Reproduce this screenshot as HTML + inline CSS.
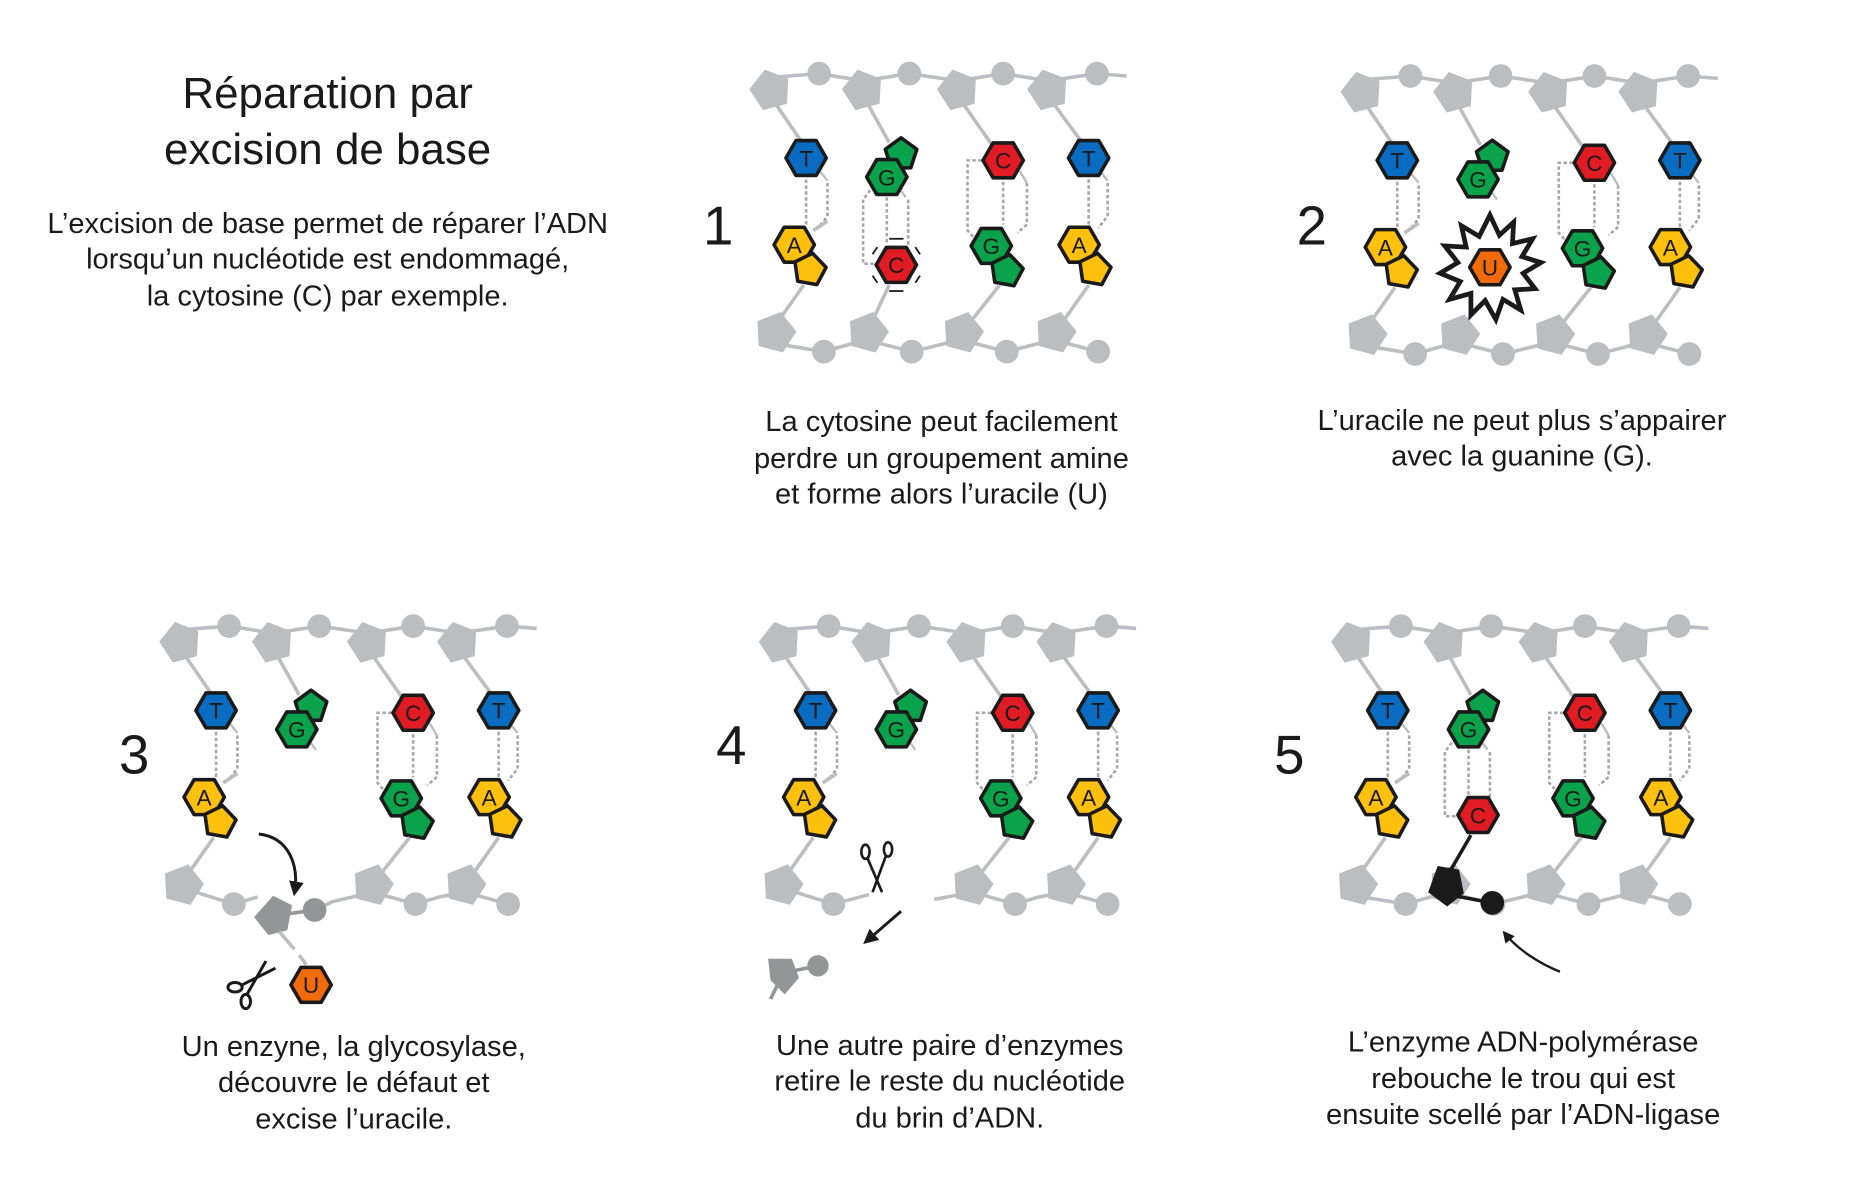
<!DOCTYPE html>
<html><head><meta charset="utf-8"><style>
html,body{margin:0;padding:0;background:#fff}
svg{display:block}
text{font-family:"Liberation Sans",sans-serif;fill:#1a1a1a}
</style></head><body>
<svg width="1852" height="1188" viewBox="0 0 1560 1000" preserveAspectRatio="none" xmlns="http://www.w3.org/2000/svg">
<defs>
<polygon id="hx" points="17,0 8.5,14.7 -8.5,14.7 -17,0 -8.5,-14.7 8.5,-14.7" stroke="#1a1a1a" stroke-width="3" stroke-linejoin="round"/>
<polygon id="pt" points="0,-14 13.3,-4.3 8.2,11.3 -8.2,11.3 -13.3,-4.3" stroke="#1a1a1a" stroke-width="3" stroke-linejoin="round"/>
<polygon id="bp" points="0,-18 17,-5.5 10.5,14.5 -10.5,14.5 -17,-5.5" fill="#bcbdc0"/>
<g id="top">
<polyline points="2,12 53,8 90,14 129,8 170,14 208,8 246,14 287,8 312,10" fill="none" stroke="#bcbdc0" stroke-width="3"/>
<use href="#bp" transform="translate(12,22) rotate(-15)"/><use href="#bp" transform="translate(90,22) rotate(-15)"/><use href="#bp" transform="translate(170,22) rotate(-15)"/><use href="#bp" transform="translate(246,22) rotate(-15)"/>
<circle cx="53" cy="8" r="10" fill="#bcbdc0"/><circle cx="129" cy="8" r="10" fill="#bcbdc0"/><circle cx="208" cy="8" r="10" fill="#bcbdc0"/><circle cx="287" cy="8" r="10" fill="#bcbdc0"/>
<g stroke="#bcbdc0" stroke-width="3"><line x1="14" y1="30" x2="40" y2="68"/><line x1="92" y1="30" x2="112" y2="66"/><line x1="172" y1="30" x2="200" y2="70"/><line x1="248" y1="30" x2="276" y2="68"/></g>
<g fill="none" stroke="#bcbdc0" stroke-width="2"><path d="M52,88 L60,98"/><path d="M288,88 L296,98"/><path d="M120,104 L126,112"/><path d="M222,90 L228,100"/></g>
</g>
<g id="topbases">
<use href="#hx" transform="translate(42,79)" fill="#0a6cc0"/><text x="42" y="86" font-size="19" text-anchor="middle">T</text>
<use href="#pt" transform="translate(122,76)" fill="#0aa24a"/><use href="#hx" transform="translate(110,95)" fill="#0aa24a"/><text x="110" y="102" font-size="19" text-anchor="middle">G</text>
<use href="#hx" transform="translate(208,81)" fill="#e01b23"/><text x="208" y="88" font-size="19" text-anchor="middle">C</text>
<use href="#hx" transform="translate(280,79)" fill="#0a6cc0"/><text x="280" y="86" font-size="19" text-anchor="middle">T</text>
</g>
<g id="dotsTA" fill="none" stroke="#a8a8a8" stroke-width="2.2" stroke-dasharray="3 2"><path d="M42,97 V135"/><path d="M60,100 V128 L52,138"/><path d="M280,97 V135"/><path d="M296,100 V128 L288,138"/></g>
<g id="dotsCG" fill="none" stroke="#a8a8a8" stroke-width="2.2" stroke-dasharray="3 2"><path d="M190,81 H178 V140 L185,148"/><path d="M208,99 V135"/><path d="M228,100 V135 L220,142"/></g>
<g id="dotsGC" fill="none" stroke="#a8a8a8" stroke-width="2.2" stroke-dasharray="3 2"><path d="M96,106 L90,114 V168 H102"/><path d="M110,112 V152"/><path d="M128,114 V152"/></g>
<g id="sideA">
<use href="#hx" transform="translate(32,152)" fill="#fdc00c"/><use href="#pt" transform="translate(45,173) rotate(10)" fill="#fdc00c"/><text x="32" y="159" font-size="19" text-anchor="middle">A</text>
</g>
<g id="botrest">
<use href="#hx" transform="translate(198,153)" fill="#0aa24a"/><use href="#pt" transform="translate(211,174) rotate(10)" fill="#0aa24a"/><text x="198" y="160" font-size="19" text-anchor="middle">G</text>
<use href="#sideA" transform="translate(240,0)"/>
<g stroke="#bcbdc0" stroke-width="3"><line x1="40" y1="186" x2="16" y2="220"/><line x1="205" y1="186" x2="178" y2="220"/><line x1="280" y1="186" x2="256" y2="220"/><line x1="48" y1="140" x2="60" y2="132"/></g>
</g>
<g id="bot">
<polyline points="15,235 57,242 92,232 131,242 172,232 211,242 250,232 288,242" fill="none" stroke="#bcbdc0" stroke-width="3"/>
<use href="#bp" transform="translate(16,226) rotate(15)"/><use href="#bp" transform="translate(94,226) rotate(15)"/><use href="#bp" transform="translate(174,226) rotate(15)"/><use href="#bp" transform="translate(252,226) rotate(15)"/>
<circle cx="57" cy="242" r="10" fill="#bcbdc0"/><circle cx="131" cy="242" r="10" fill="#bcbdc0"/><circle cx="211" cy="242" r="10" fill="#bcbdc0"/><circle cx="288" cy="242" r="10" fill="#bcbdc0"/>
</g>
<marker id="ah" viewBox="0 0 10 10" refX="8" refY="5" markerWidth="5" markerHeight="5" orient="auto"><path d="M0,0 L10,5 L0,10 Z" fill="#1a1a1a"/></marker>
<g id="sc" fill="none" stroke="#1a1a1a" stroke-width="2.5"><ellipse cx="-12" cy="4" rx="6" ry="4"/><ellipse cx="-3" cy="16" rx="4" ry="6"/><line x1="-6" y1="2" x2="22" y2="-12"/><line x1="-2" y1="10" x2="14" y2="-18"/></g>
</defs>

<text x="276" y="91" font-size="37" text-anchor="middle">Réparation par</text>
<text x="276" y="138" font-size="37" text-anchor="middle">excision de base</text>
<g font-size="24.5" text-anchor="middle">
<text x="276" y="196">L’excision de base permet de réparer l’ADN</text>
<text x="276" y="226">lorsqu’un nucléotide est endommagé,</text>
<text x="276" y="257">la cytosine (C) par exemple.</text>
<text x="793" y="363">La cytosine peut facilement</text>
<text x="793" y="394">perdre un groupement amine</text>
<text x="793" y="424">et forme alors l’uracile (U)</text>
<text x="1282" y="362">L’uracile ne peut plus s’appairer</text>
<text x="1282" y="392">avec la guanine (G).</text>
<text x="298" y="889">Un enzyne, la glycosylase,</text>
<text x="298" y="919">découvre le défaut et</text>
<text x="298" y="950">excise l’uracile.</text>
<text x="800" y="888">Une autre paire d’enzymes</text>
<text x="800" y="918">retire le reste du nucléotide</text>
<text x="800" y="949">du brin d’ADN.</text>
<text x="1283" y="885">L’enzyme ADN-polymérase</text>
<text x="1283" y="916">rebouche le trou qui est</text>
<text x="1283" y="946">ensuite scellé par l’ADN-ligase</text>
</g>
<g font-size="46" text-anchor="middle">
<text x="605" y="206">1</text><text x="1105" y="206">2</text><text x="113" y="651">3</text><text x="616" y="643">4</text><text x="1086" y="651">5</text>
</g>

<!-- Panel 1 -->
<g transform="translate(637,54)">
<use href="#top"/><use href="#bot"/><use href="#dotsTA"/><use href="#dotsCG"/><use href="#dotsGC"/>
<line x1="112" y1="186" x2="96" y2="220" stroke="#bcbdc0" stroke-width="3"/>
<use href="#topbases"/><use href="#sideA"/><use href="#botrest"/>
<use href="#hx" transform="translate(118,169)" fill="#e01b23"/><text x="118" y="176" font-size="19" text-anchor="middle">C</text>
<g stroke="#1a1a1a" stroke-width="1.5"><line x1="112" y1="147" x2="124" y2="147"/><line x1="112" y1="191" x2="124" y2="191"/><line x1="98" y1="160" x2="102" y2="154"/><line x1="134" y1="154" x2="138" y2="160"/><line x1="98" y1="178" x2="102" y2="184"/><line x1="134" y1="184" x2="138" y2="178"/></g>
</g>

<!-- Panel 2 -->
<g transform="translate(1135,56)">
<use href="#top"/><use href="#bot"/><use href="#dotsTA"/><use href="#dotsCG"/>
<line x1="112" y1="200" x2="96" y2="220" stroke="#bcbdc0" stroke-width="3"/>
<use href="#topbases"/><use href="#sideA"/><use href="#botrest"/>
<polygon transform="translate(120,169)" fill="#fff" stroke="#1a1a1a" stroke-width="4" stroke-linejoin="miter" points="0,-44 8,-27 20,-38 19,-20 36,-24 27,-9 43,-4 28,5 38,18 21,19 26,36 11,27 5,44 -4,28 -16,40 -16,22 -34,27 -25,12 -42,5 -27,-4 -38,-18 -20,-17 -24,-35 -9,-26"/>
<use href="#hx" transform="translate(120,169)" fill="#f26b0a"/><text x="120" y="176" font-size="19" text-anchor="middle">U</text>
</g>

<!-- Panel 3 -->
<g transform="translate(140,519)">
<use href="#top"/><use href="#dotsTA"/><use href="#dotsCG"/>
<polyline points="12,228 57,242 77,236" fill="none" stroke="#bcbdc0" stroke-width="3"/>
<polyline points="125,247 140,240 174,232 210,242 230,236 252,232 288,242" fill="none" stroke="#bcbdc0" stroke-width="3"/>
<line x1="90" y1="252" x2="125" y2="247" stroke="#949597" stroke-width="3"/>
<use href="#bp" transform="translate(14,226) rotate(15)"/><circle cx="57" cy="242" r="10" fill="#bcbdc0"/>
<use href="#bp" transform="translate(174,226) rotate(15)"/><circle cx="210" cy="242" r="10" fill="#bcbdc0"/>
<use href="#bp" transform="translate(252,226) rotate(15)"/><circle cx="288" cy="242" r="10" fill="#bcbdc0"/>
<polygon points="90,235 106,243 102,264 86,268 74,253" fill="#949597"/>
<circle cx="125" cy="247" r="10" fill="#949597"/>
<line x1="95" y1="265" x2="108" y2="280" stroke="#bcbdc0" stroke-width="3"/><line x1="112" y1="285" x2="118" y2="293" stroke="#bcbdc0" stroke-width="3"/>
<use href="#hx" transform="translate(122,310)" fill="#f26b0a"/><text x="122" y="317" font-size="19" text-anchor="middle">U</text>
<use href="#sc" transform="translate(70,308)"/>
<path d="M78,183 C104,186 112,210 108,233" fill="none" stroke="#1a1a1a" stroke-width="2.5" marker-end="url(#ah)"/>
<use href="#topbases"/><use href="#sideA"/><use href="#botrest"/>
</g>

<!-- Panel 4 -->
<g transform="translate(645,519)">
<use href="#top"/><use href="#dotsTA"/><use href="#dotsCG"/>
<polyline points="12,228 57,242 87,234" fill="none" stroke="#bcbdc0" stroke-width="3"/>
<polyline points="142,238 174,232 210,242 230,236 252,232 288,242" fill="none" stroke="#bcbdc0" stroke-width="3"/>
<use href="#bp" transform="translate(14,226) rotate(15)"/><circle cx="57" cy="242" r="10" fill="#bcbdc0"/>
<use href="#bp" transform="translate(174,226) rotate(15)"/><circle cx="210" cy="242" r="10" fill="#bcbdc0"/>
<use href="#bp" transform="translate(252,226) rotate(15)"/><circle cx="288" cy="242" r="10" fill="#bcbdc0"/>
<line x1="14" y1="300" x2="44" y2="294" stroke="#949597" stroke-width="3"/>
<polygon points="2,288 22,288 28,304 16,318 4,306" fill="#949597"/><line x1="10" y1="310" x2="4" y2="322" stroke="#949597" stroke-width="3"/>
<circle cx="44" cy="294" r="9" fill="#949597"/>
<g fill="none" stroke="#1a1a1a" stroke-width="2.2"><ellipse cx="84" cy="198" rx="3.5" ry="6"/><ellipse cx="103" cy="196" rx="3.5" ry="6"/><line x1="86" y1="204" x2="98" y2="232"/><line x1="101" y1="202" x2="90" y2="232"/></g>
<line x1="114" y1="248" x2="84" y2="274" stroke="#1a1a1a" stroke-width="2.5" marker-end="url(#ah)"/>
<use href="#topbases"/><use href="#sideA"/><use href="#botrest"/>
</g>

<!-- Panel 5 -->
<g transform="translate(1127,519)">
<use href="#top"/><use href="#bot"/><use href="#dotsTA"/><use href="#dotsCG"/><use href="#dotsGC"/>
<line x1="112" y1="184" x2="94" y2="215" stroke="#1a1a1a" stroke-width="3"/>
<polygon points="84,210 102,213 106,233 92,244 76,232" fill="#1a1a1a"/>
<line x1="98" y1="235" x2="130" y2="241" stroke="#1a1a1a" stroke-width="3"/>
<circle cx="130" cy="241" r="10" fill="#1a1a1a"/>
<path d="M187,299 C170,292 152,281 140,266" fill="none" stroke="#1a1a1a" stroke-width="2" marker-end="url(#ah)"/>
<use href="#topbases"/><use href="#sideA"/><use href="#botrest"/>
<use href="#hx" transform="translate(118,167)" fill="#e01b23"/><text x="118" y="174" font-size="19" text-anchor="middle">C</text>
</g>
</svg>
</body></html>
